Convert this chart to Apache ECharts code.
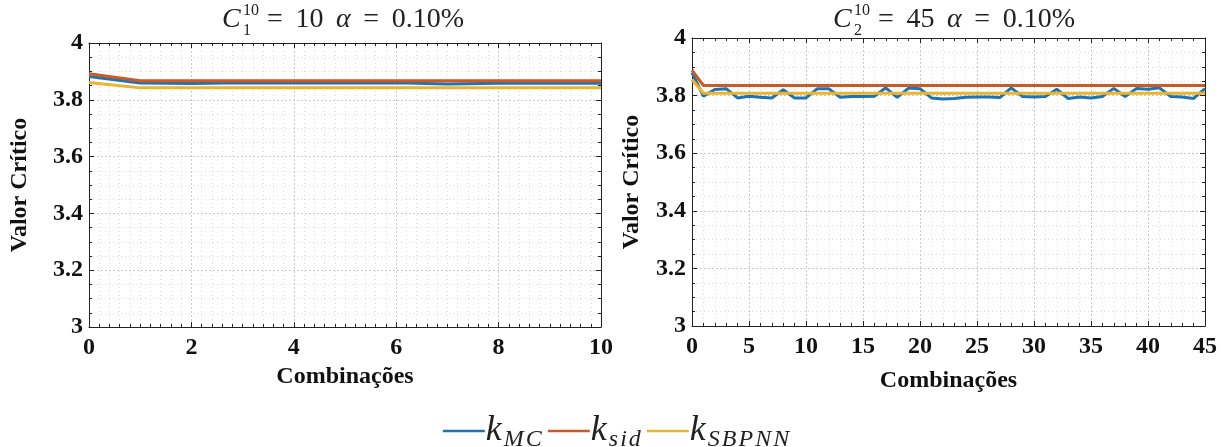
<!DOCTYPE html>
<html>
<head>
    <meta charset="utf-8" />
    <title></title>
    <script src="https://cdn.jsdelivr.net/npm/echarts@6/dist/echarts.min.js"></script>
    <style>
        html, body { margin: 0; padding: 0; background: #fff; }
        #container { width: 1232px; height: 447px; }
    </style>
</head>
<body>
    <div id="container"></div>
    <script>
        // combinações (eixo x)
        var comb1 = [0, 1, 2, 3, 4, 5, 6, 7, 8, 9, 10];
        var comb2 = [0, 1, 2, 3, 4, 5, 6, 7, 8, 9, 10, 11, 12, 13, 14, 15, 16, 17, 18, 19, 20, 21, 22,
            23, 24, 25, 26, 27, 28, 29, 30, 31, 32, 33, 34, 35, 36, 37, 38, 39, 40, 41, 42, 43, 44, 45];

        // C1 = 10
        var kMC1 = [3.882, 3.859, 3.857, 3.860, 3.859, 3.859, 3.860, 3.856, 3.858, 3.859, 3.858];
        var kSid1 = [3.892, 3.867, 3.867, 3.867, 3.867, 3.867, 3.867, 3.867, 3.867, 3.867, 3.867];
        var kSBPNN1 = [3.861, 3.842, 3.842, 3.842, 3.842, 3.842, 3.842, 3.842, 3.842, 3.842, 3.842];

        // C2 = 45
        var kMC2 = [3.880, 3.798, 3.821, 3.824, 3.792, 3.798, 3.794, 3.792, 3.820, 3.792, 3.792,
            3.824, 3.824, 3.794, 3.797, 3.797, 3.798, 3.827, 3.794, 3.826, 3.824, 3.792, 3.788,
            3.790, 3.794, 3.795, 3.795, 3.793, 3.827, 3.797, 3.795, 3.797, 3.822, 3.790, 3.795,
            3.792, 3.797, 3.825, 3.797, 3.825, 3.822, 3.827, 3.797, 3.795, 3.790, 3.824];
        var kSid2 = [3.888, 3.835, 3.835, 3.835, 3.835, 3.835, 3.835, 3.835, 3.835, 3.835, 3.835,
            3.835, 3.835, 3.835, 3.835, 3.835, 3.835, 3.835, 3.835, 3.835, 3.835, 3.835, 3.835,
            3.835, 3.835, 3.835, 3.835, 3.835, 3.835, 3.835, 3.835, 3.835, 3.835, 3.835, 3.835,
            3.835, 3.835, 3.835, 3.835, 3.835, 3.835, 3.835, 3.835, 3.835, 3.835, 3.835];
        var kSBPNN2 = [3.856, 3.808, 3.808, 3.808, 3.808, 3.808, 3.808, 3.808, 3.808, 3.808, 3.808,
            3.808, 3.808, 3.808, 3.808, 3.808, 3.808, 3.808, 3.808, 3.808, 3.808, 3.808, 3.808,
            3.808, 3.808, 3.808, 3.808, 3.808, 3.808, 3.808, 3.808, 3.808, 3.808, 3.808, 3.808,
            3.808, 3.808, 3.808, 3.808, 3.808, 3.808, 3.808, 3.808, 3.808, 3.808, 3.808];

        var seriesNames = ['k_MC', 'k_sid', 'k_SBPNN'];
        var seriesSubs = ['MC', 'sid', 'SBPNN'];
        var colors = ['#1f73b3', '#cc5a25', '#e8b52c'];

        var serif = "'Liberation Serif', 'DejaVu Serif', serif";

        function pairs(xs, ys) {
            return xs.map(function (x, i) { return [x, ys[i]]; });
        }

        function mainX(grid, max, interval, minorSplit, nameGap) {
            return {
                type: 'value', gridIndex: grid, min: 0, max: max, interval: interval,
                name: 'Combinações', nameLocation: 'middle', nameGap: nameGap,
                nameTextStyle: { fontFamily: serif, fontWeight: 'bold', fontSize: 24, color: '#111' },
                axisLine: { onZero: false, lineStyle: { color: '#222', width: 1 } },
                axisTick: { inside: true, length: 5, lineStyle: { color: '#222' } },
                minorTick: { show: true, splitNumber: minorSplit, length: 3, lineStyle: { color: '#222' } },
                axisLabel: { fontFamily: serif, fontWeight: 'bold', fontSize: 24, color: '#111', margin: 9 },
                splitLine: { show: true, lineStyle: { type: [2, 2], color: '#c8c8c8' } },
                minorSplitLine: { show: true, lineStyle: { type: [1, 3], color: '#dcdcdc' } }
            };
        }
        function boxX(grid, max, interval, minorSplit) {
            return {
                type: 'value', gridIndex: grid, min: 0, max: max, interval: interval, position: 'top',
                axisLine: { onZero: false, lineStyle: { color: '#222', width: 1 } },
                axisTick: { inside: true, length: 5, lineStyle: { color: '#222' } },
                minorTick: { show: true, splitNumber: minorSplit, length: 3, lineStyle: { color: '#222' } },
                axisLabel: { show: false },
                splitLine: { show: false }
            };
        }
        function mainY(grid, nameGap) {
            return {
                type: 'value', gridIndex: grid, min: 3, max: 4, interval: 0.2,
                name: 'Valor Crítico', nameLocation: 'middle', nameGap: nameGap,
                nameTextStyle: { fontFamily: serif, fontWeight: 'bold', fontSize: 24, color: '#111' },
                axisLine: { show: true, onZero: false, lineStyle: { color: '#222', width: 1 } },
                axisTick: { show: true, inside: true, length: 5, lineStyle: { color: '#222' } },
                minorTick: { show: true, splitNumber: 4, length: 3, lineStyle: { color: '#222' } },
                axisLabel: { fontFamily: serif, fontWeight: 'bold', fontSize: 24, color: '#111', margin: 6 },
                splitLine: { show: true, lineStyle: { type: [2, 2], color: '#c8c8c8' } },
                minorSplitLine: { show: true, lineStyle: { type: [1, 3], color: '#dcdcdc' } }
            };
        }
        function boxY(grid) {
            return {
                type: 'value', gridIndex: grid, min: 3, max: 4, interval: 0.2, position: 'right',
                axisLine: { show: true, onZero: false, lineStyle: { color: '#222', width: 1 } },
                axisTick: { show: true, inside: true, length: 5, lineStyle: { color: '#222' } },
                minorTick: { show: true, splitNumber: 4, length: 3, lineStyle: { color: '#222' } },
                axisLabel: { show: false },
                splitLine: { show: false }
            };
        }

        function line(name, color, xi, yi, data) {
            return {
                name: name, type: 'line', xAxisIndex: xi, yAxisIndex: yi, data: data,
                symbol: 'none', silent: true, animation: false,
                lineStyle: { color: color, width: 3 }, itemStyle: { color: color }
            };
        }

        // titulo em estilo LaTeX: C_sub^10 = n  alpha = 0.10%
        function mathTitle(x, y, sub, n) {
            var base = { fontFamily: serif, fontSize: 28, fill: '#222' };
            return {
                type: 'group', x: x, y: y, silent: true,
                children: [
                    { type: 'text', x: 0, y: 0, style: Object.assign({}, base, { text: 'C', fontStyle: 'italic', verticalAlign: 'middle' }) },
                    { type: 'text', x: 21, y: -9, style: Object.assign({}, base, { text: '10', fontSize: 16, verticalAlign: 'middle' }) },
                    { type: 'text', x: 21, y: 11, style: Object.assign({}, base, { text: sub, fontSize: 16, verticalAlign: 'middle' }) },
                    {
                        type: 'text', x: 45, y: 0, style: Object.assign({}, base, {
                            text: '{t|= \u2009' + n + ' \u2009}{a|α}{t| \u2009= \u20090.10%}', verticalAlign: 'middle',
                            rich: {
                                t: { fontFamily: serif, fontSize: 28, fill: '#222' },
                                a: { fontFamily: serif, fontSize: 28, fontStyle: 'italic', fill: '#222' }
                            }
                        })
                    }
                ]
            };
        }

        var chart = echarts.init(document.getElementById('container'));
        var option = {
            backgroundColor: '#fff',
            animation: false,
            grid: [
                { left: 89, top: 43, width: 512, height: 284 },
                { left: 692, top: 38, width: 513, height: 288 }
            ],
            xAxis: [
                mainX(0, 10, 2, 10, 32),
                boxX(0, 10, 2, 10),
                mainX(1, 45, 5, 5, 43),
                boxX(1, 45, 5, 5)
            ],
            yAxis: [
                mainY(0, 57),
                boxY(0),
                mainY(1, 48),
                boxY(1)
            ],
            legend: {
                data: seriesNames,
                left: 'center',
                top: 408,
                icon: 'rect',
                itemWidth: 42,
                itemHeight: 2.5,
                itemGap: 6,
                formatter: function (name) {
                    return '{k|k}{s|' + seriesSubs[seriesNames.indexOf(name)].split('').join('\u200a') + '}';
                },
                textStyle: {
                    padding: [0, 0, 0, -4],
                    rich: {
                        k: { fontFamily: serif, fontStyle: 'italic', fontSize: 36, color: '#222' },
                        s: { fontFamily: serif, fontStyle: 'italic', fontSize: 24, color: '#222', padding: [18, 0, 0, 2] }
                    }
                }
            },
            graphic: [
                mathTitle(222, 20, '1', '10'),
                mathTitle(833, 20, '2', '45')
            ],
            series: [
                line(seriesNames[0], colors[0], 0, 0, pairs(comb1, kMC1)),
                line(seriesNames[1], colors[1], 0, 0, pairs(comb1, kSid1)),
                line(seriesNames[2], colors[2], 0, 0, pairs(comb1, kSBPNN1)),
                line(seriesNames[0], colors[0], 2, 2, pairs(comb2, kMC2)),
                line(seriesNames[1], colors[1], 2, 2, pairs(comb2, kSid2)),
                line(seriesNames[2], colors[2], 2, 2, pairs(comb2, kSBPNN2))
            ]
        };
        chart.setOption(option);
    </script>
</body>
</html>
